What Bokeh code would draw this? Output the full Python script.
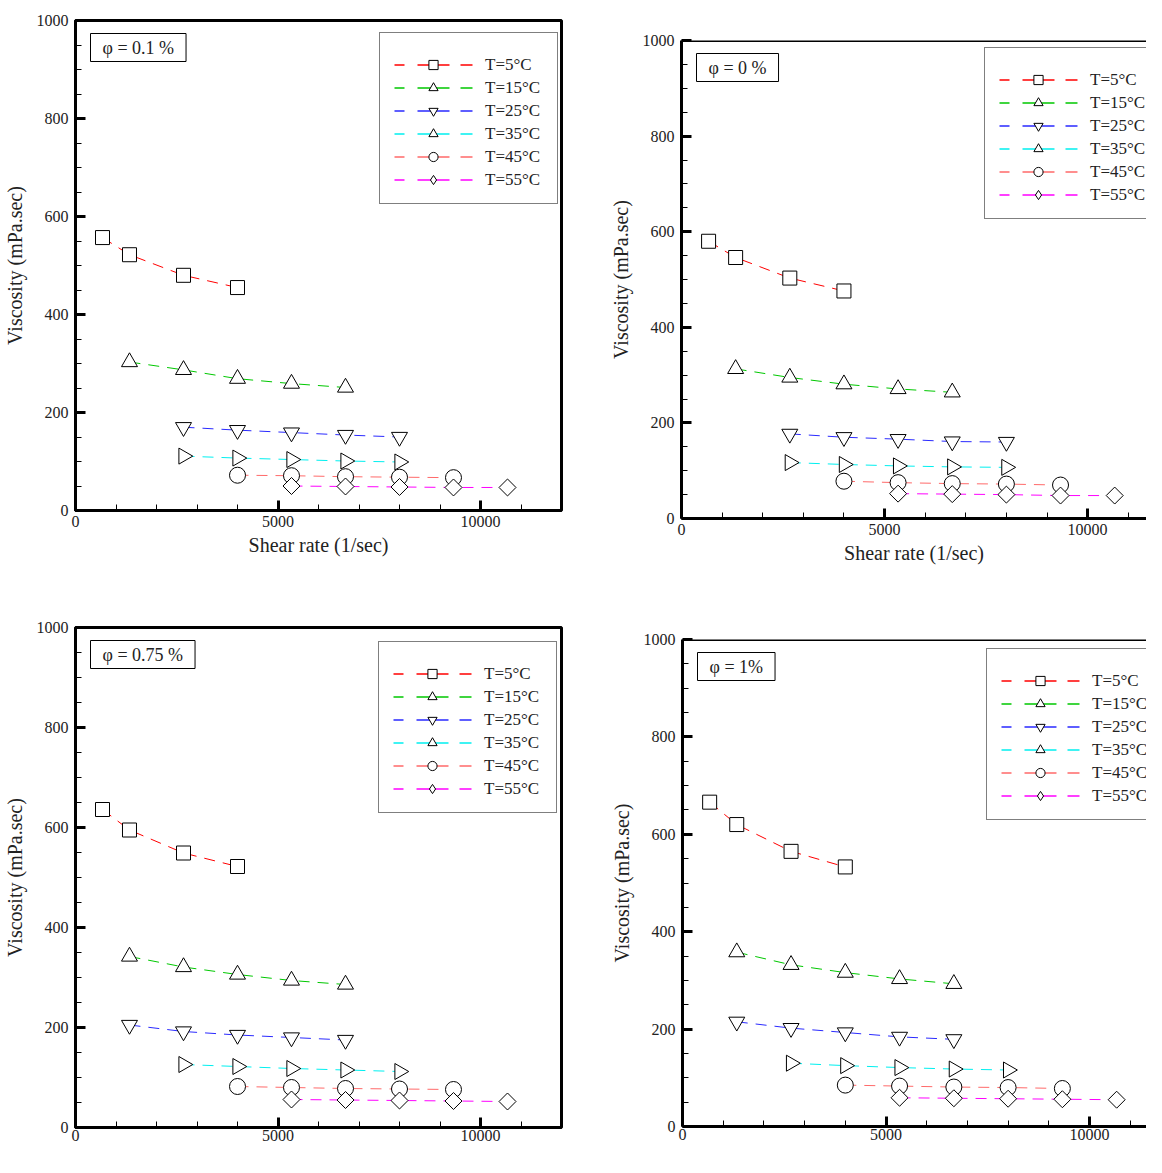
import math
from bokeh.plotting import figure
from bokeh.models import Legend, LegendItem, Label, Span, SingleIntervalTicker, Range1d
from bokeh.layouts import column, row
from bokeh.embed import file_html
from bokeh.resources import INLINE

# ---------------- data ----------------
temp_labels = ["T=5°C", "T=15°C", "T=25°C", "T=35°C", "T=45°C", "T=55°C"]
phi_labels = ["φ = 0.1 %", "φ = 0 %", "φ = 0.75 %", "φ = 1%"]
x_axis_title = "Shear rate (1/sec)"
y_axis_title = "Viscosity (mPa.sec)"
x_ticks_interval = 5000
y_ticks_interval = 200

# shear rates (1/sec) for each temperature series
x_T5 = [667, 1333, 2667, 4000]
x_T15 = [1333, 2667, 4000, 5333, 6667]
x_T25_low = [2667, 4000, 5333, 6667, 8000]     # phi = 0.1 %, 0 %
x_T25_high = [1333, 2667, 4000, 5333, 6667]    # phi = 0.75 %, 1 %
x_T35 = [2667, 4000, 5333, 6667, 8000]
x_T45 = [4000, 5333, 6667, 8000, 9333]
x_T55 = [5333, 6667, 8000, 9333, 10667]

# viscosity (mPa.sec), phi = 0.1 %
phi01_T5 = [557, 522, 480, 455]
phi01_T15 = [303, 287, 269, 259, 251]
phi01_T25 = [170, 164, 159, 154, 150]
phi01_T35 = [111, 107, 104, 101, 99]
phi01_T45 = [72, 71, 69, 68, 67]
phi01_T55 = [50, 49, 48, 47, 47]

# phi = 0 %
phi0_T5 = [580, 546, 503, 476]
phi0_T15 = [313, 295, 281, 271, 264]
phi0_T25 = [177, 170, 166, 161, 160]
phi0_T35 = [117, 113, 110, 108, 107]
phi0_T45 = [78, 75, 73, 72, 70]
phi0_T55 = [52, 51, 50, 48, 48]

# phi = 0.75 %
phi075_T5 = [636, 595, 549, 522]
phi075_T15 = [342, 321, 306, 294, 286]
phi075_T25 = [205, 192, 185, 180, 175]
phi075_T35 = [126, 122, 118, 115, 112]
phi075_T45 = [82, 80, 78, 77, 76]
phi075_T55 = [56, 55, 54, 53, 52]

# phi = 1 %
phi1_T5 = [666, 620, 565, 533]
phi1_T15 = [358, 332, 316, 303, 293]
phi1_T25 = [215, 202, 193, 184, 179]
phi1_T35 = [130, 125, 121, 118, 116]
phi1_T45 = [85, 83, 81, 80, 78]
phi1_T55 = [59, 58, 57, 56, 55]

# ---------------- styles ----------------
colors = ["#ff0000", "#00c800", "#2a2aff", "#00f0f0", "#ff6a6a", "#ff00ff"]
plot_markers = ["square", "triangle", "inverted_triangle", "triangle", "circle", "square"]
plot_angles = [0, 0, 0, -math.pi / 2, 0, math.pi / 4]
plot_sizes = [14, 16, 16, 16, 16, 12]
legend_markers = ["square", "triangle", "inverted_triangle", "triangle", "circle", "diamond"]
FONT = "Liberation Serif"


def make_panel(xs_list, ys_list, phi_text, width, height, borders, x_end,
               legend_loc, full_outline, x_title_as_label):
    left, right, top, bottom = borders
    p = figure(width=width, height=height, output_backend="svg", toolbar_location=None,
               x_range=Range1d(0, x_end), y_range=Range1d(0, 1000),
               min_border_left=left, min_border_right=right,
               min_border_top=top, min_border_bottom=bottom,
               background_fill_color="white", border_fill_color="white")
    p.xgrid.visible = False
    p.ygrid.visible = False
    if full_outline:
        p.outline_line_color = "black"
        p.outline_line_width = 3
    else:
        p.outline_line_color = None
        p.add_layout(Span(location=1000, dimension="width", line_color="black", line_width=3))

    p.xaxis.ticker = SingleIntervalTicker(interval=x_ticks_interval, num_minor_ticks=5)
    p.yaxis.ticker = SingleIntervalTicker(interval=y_ticks_interval, num_minor_ticks=4)
    for ax in (p.xaxis[0], p.yaxis[0]):
        ax.axis_line_width = 3
        ax.axis_line_color = "black"
        ax.major_tick_in = 10
        ax.major_tick_out = 0
        ax.minor_tick_in = 6
        ax.minor_tick_out = 0
        ax.major_tick_line_width = 3
        ax.minor_tick_line_width = 1
        ax.major_label_text_font = FONT
        ax.major_label_text_font_size = "16px"
        ax.major_label_text_color = "#222222"
        ax.axis_label_text_font = FONT
        ax.axis_label_text_font_size = "20px"
        ax.axis_label_text_font_style = "normal"
        ax.axis_label_text_color = "#222222"
    p.yaxis.axis_label = y_axis_title
    p.yaxis.major_label_standoff = 7
    p.yaxis.axis_label_standoff = 8
    if x_title_as_label:
        # the reference crops this title at the bottom edge of the picture
        p.xaxis.major_label_standoff = 2
        p.add_layout(Label(x=x_end / 2, y=0, x_offset=0, y_offset=-15, text=x_axis_title,
                           text_font=FONT, text_font_size="20px", text_color="#222222",
                           text_align="center", text_baseline="top"))
    else:
        p.xaxis.major_label_standoff = 5
        p.xaxis.axis_label = x_axis_title
        p.xaxis.axis_label_standoff = 4

    items = []
    for i, (xs, ys) in enumerate(zip(xs_list, ys_list)):
        p.line(xs, ys, line_color=colors[i], line_width=1, line_dash="11 8")
        p.scatter(xs, ys, marker=plot_markers[i], size=plot_sizes[i], angle=plot_angles[i],
                  fill_color="white", line_color="black", line_width=1)
        # one-point renderers: nothing visible in the plot, they give the legend its glyphs
        leg_line = p.line(xs[:1], ys[:1], line_color=colors[i], line_width=1.3,
                          line_dash="0 2 10 13 32 11 12 100")
        leg_mark = p.scatter(xs[:1], ys[:1], marker=legend_markers[i], size=0,
                             fill_color="white", line_color="black", line_width=1)
        items.append(LegendItem(label=temp_labels[i], renderers=[leg_line, leg_mark]))

    legend = Legend(items=items, location=legend_loc, title="\u00a0",
                    title_text_font_size="6px", title_standoff=2,
                    label_text_font=FONT, label_text_font_size="17px",
                    label_text_color="#222222",
                    glyph_width=82, glyph_height=23, label_height=23, label_width=60,
                    label_standoff=11, spacing=0, padding=12, margin=0,
                    border_line_color="black", border_line_width=1,
                    background_fill_color="white", background_fill_alpha=1.0)
    p.add_layout(legend, "center")

    p.add_layout(Label(x=0, y=1000, x_offset=15, y_offset=-13, text=phi_text,
                       text_font=FONT, text_font_size="18px", text_color="#222222",
                       text_align="left", text_baseline="top",
                       border_line_color="black", border_line_width=1,
                       background_fill_color="white", padding=(12, 4)))
    return p


p1 = make_panel([x_T5, x_T15, x_T25_low, x_T35, x_T45, x_T55],
                [phi01_T5, phi01_T15, phi01_T25, phi01_T35, phi01_T45, phi01_T55],
                phi_labels[0], 605, 570, (72, 44, 20, 60), 12000, (304, 306), True, False)
p2 = make_panel([x_T5, x_T15, x_T25_low, x_T35, x_T45, x_T55],
                [phi0_T5, phi0_T15, phi0_T25, phi0_T35, phi0_T45, phi0_T55],
                phi_labels[1], 541, 570, (76, 0, 40, 52), 11450, (303, 299), False, False)
p3 = make_panel([x_T5, x_T15, x_T25_high, x_T35, x_T45, x_T55],
                [phi075_T5, phi075_T15, phi075_T25, phi075_T35, phi075_T45, phi075_T55],
                phi_labels[2], 605, 587, (74, 44, 57, 30), 12000, (303, 314), True, True)
p4 = make_panel([x_T5, x_T15, x_T25_high, x_T35, x_T45, x_T55],
                [phi1_T5, phi1_T15, phi1_T25, phi1_T35, phi1_T45, phi1_T55],
                phi_labels[3], 541, 587, (77, 0, 69, 31), 11400, (304, 306), False, True)

layout = column(row(column(p1), column(p2)), row(column(p3), column(p4)))
open("out.html", "w").write(file_html(layout, INLINE))
